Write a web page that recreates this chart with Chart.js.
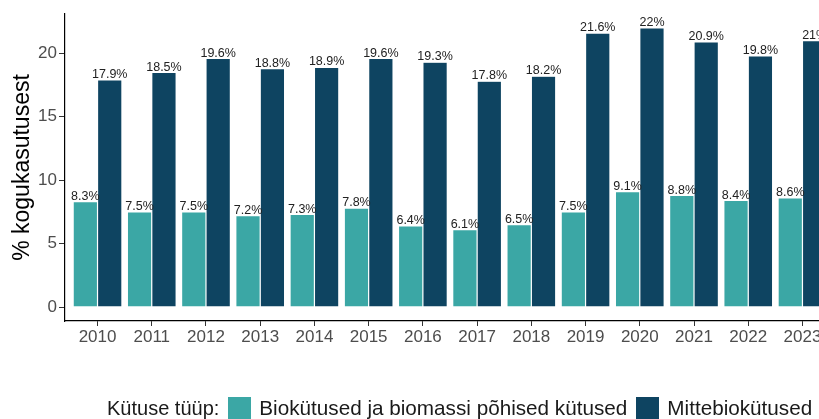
<!DOCTYPE html>
<html>
<head>
<meta charset="utf-8">
<script src="https://cdn.jsdelivr.net/npm/chart.js@4"></script>
<style>
  html, body { margin: 0; padding: 0; background: #fff; overflow: hidden; }
  #wrap { position: relative; width: 840px; height: 419px; }
  #legend {
    position: absolute; left: 107px; top: 396px;
    display: flex; align-items: center; white-space: nowrap;
    font-family: "Liberation Sans", Arial, sans-serif; font-size: 20px; color: #1a1a1a;
  }
  #legend .item { font-size: 20.7px; }
  #legend .box { width: 23px; height: 23px; margin: 0 8px 0 9px; }
</style>
</head>
<body>
<div id="wrap">
  <canvas id="chart" width="840" height="419"></canvas>
  <div id="legend"></div>
</div>
<script>
const years = [2010, 2011, 2012, 2013, 2014, 2015, 2016, 2017, 2018, 2019, 2020, 2021, 2022, 2023];
const bioValues = [8.3, 7.5, 7.5, 7.2, 7.3, 7.8, 6.4, 6.1, 6.5, 7.5, 9.1, 8.8, 8.4, 8.6];
const nonBioValues = [17.9, 18.5, 19.6, 18.8, 18.9, 19.6, 19.3, 17.8, 18.2, 21.6, 22, 20.9, 19.8, 21];
const seriesNames = ["Biokütused ja biomassi põhised kütused", "Mittebiokütused"];
const seriesColors = ["#3ba7a5", "#0e4461"];
const yTicks = [0, 5, 10, 15, 20];

const font = "'Liberation Sans', Arial, sans-serif";

// value labels above every bar
const barLabels = {
  id: "barLabels",
  afterDatasetsDraw(chart) {
    const ctx = chart.ctx;
    ctx.save();
    ctx.font = "12.5px " + font;
    ctx.fillStyle = "#222";
    ctx.textAlign = "center";
    ctx.textBaseline = "bottom";
    chart.data.datasets.forEach((ds, i) => {
      chart.getDatasetMeta(i).data.forEach((bar, j) => {
        ctx.fillText(ds.data[j].y + "%", bar.x, bar.y + 1);
      });
    });
    ctx.restore();
  }
};

new Chart(document.getElementById("chart").getContext("2d"), {
  type: "bar",
  data: {
    datasets: [0, 1].map(i => ({
      label: seriesNames[i],
      data: years.map((yr, j) => ({ x: yr, y: (i === 0 ? bioValues : nonBioValues)[j] })),
      backgroundColor: seriesColors[i],
      borderColor: "rgba(255,255,255,0.35)",
      borderWidth: 0.6,
      categoryPercentage: 0.9,
      barPercentage: 1
    }))
  },
  options: {
    responsive: false,
    animation: false,
    layout: { padding: { top: 14, right: 5, left: 0, bottom: 0 } },
    plugins: { legend: { display: false }, tooltip: { enabled: false } },
    scales: {
      x: {
        type: "linear",
        offset: false,
        min: 2009.4,
        max: 2023.6,
        afterFit: s => { s.height = 98; },
        afterBuildTicks: s => { s.ticks = years.map(v => ({ value: v })); },
        ticks: { callback: v => String(v), autoSkip: false, maxRotation: 0, padding: 1, color: "#4d4d4d", font: { family: font, size: 17 } },
        grid: { display: true, offset: false, drawOnChartArea: false, drawTicks: true, tickLength: 5, color: "#333" },
        border: { display: true, color: "#000", width: 1.2 }
      },
      y: {
        min: -1.1,
        max: 23.1,
        afterFit: s => { s.width = 65; },
        afterBuildTicks: s => { s.ticks = yTicks.map(v => ({ value: v })); },
        ticks: { padding: 2, color: "#4d4d4d", font: { family: font, size: 17 } },
        grid: { display: true, drawOnChartArea: false, drawTicks: true, tickLength: 6, color: "#333" },
        border: { display: true, color: "#000", width: 1.2 },
        title: { display: true, text: "% kogukasutusest", color: "#000", font: { family: font, size: 23 }, padding: { top: 9, bottom: 0 } }
      }
    }
  },
  plugins: [barLabels]
});

// legend in one row with its title, like the original
const legend = document.getElementById("legend");
legend.innerHTML = "<span>Kütuse tüüp:</span>" + seriesNames.map((n, i) =>
  '<span class="box" style="background:' + seriesColors[i] + '"></span><span class="item">' + n + "</span>").join("");
</script>
</body>
</html>
